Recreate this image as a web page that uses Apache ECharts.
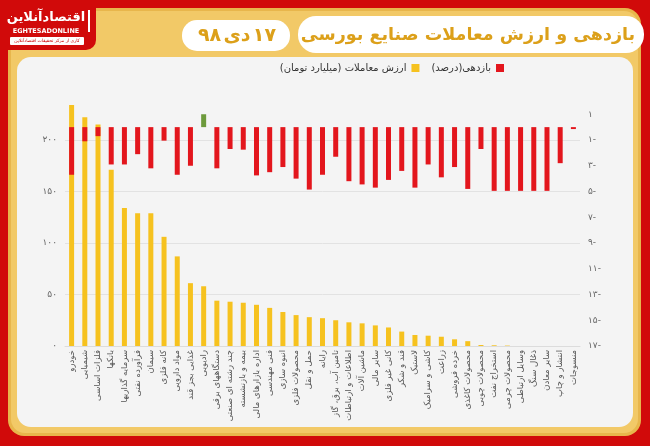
<!DOCTYPE html>
<html>
<head>
<meta charset="utf-8">
<script src="https://cdn.jsdelivr.net/npm/echarts@6/dist/echarts.min.js"></script>
<style>
html,body{margin:0;padding:0;background:#d10a0a;}
#chart{width:650px;height:446px;}
</style>
</head>
<body>
<div id="chart"></div>
<script>
const categories = [
  'خودرو','شیمیایی','فلزات اساسی','بانکها','سرمایه گذاریها','فرآورده نفتی','سیمان','کانه فلزی','مواد دارویی','غذایی بجز قند',
  'رادیویی','دستگاههای برقی','چند رشته ای صنعتی','بیمه و بازنشسته','اداره بازارهای مالی','فنی مهندسی','انبوه سازی','محصولات فلزی','حمل و نقل','رایانه',
  'تامین آب، برق، گاز','اطلاعات و ارتباطات','ماشین آلات','سایر مالی','کانی غیر فلزی','قند و شکر','لاستیک','کاشی و سرامیک','زراعت','خرده فروشی',
  'محصولات کاغذی','محصولات چوبی','استخراج نفت','محصولات چرمی','وسایل ارتباطی','ذغال سنگ','سایر معادن','انتشار و چاپ','منسوجات'
];
const tradeValue = [
  234, 222, 215, 171, 134, 129, 129, 106, 87, 61,
  58, 44, 43, 42, 40, 37, 33, 30, 28, 27,
  25, 23, 22, 20, 18, 14, 10.7, 10, 9, 6.5,
  4.7, 1.0, 0.7, 0.4, 0, 0, 0, 0, 0
];
const returnPct = [
  -3.7, -1.1, -0.7, -2.9, -2.9, -2.1, -3.2, -1.05, -3.7, -3.0,
  1.0, -3.2, -1.7, -1.75, -3.75, -3.5, -3.1, -4.0, -4.85, -3.7,
  -2.3, -4.2, -4.45, -4.7, -4.1, -3.4, -4.7, -2.9, -3.9, -3.1,
  -4.8, -1.7, -4.95, -4.95, -4.95, -4.95, -4.95, -2.8, -0.15
];
const leftTicks = {0:'۰',50:'۵۰',100:'۱۰۰',150:'۱۵۰',200:'۲۰۰'};
const rightTicks = {1:'۱','-1':'۱-','-3':'۳-','-5':'۵-','-7':'۷-','-9':'۹-','-11':'۱۱-','-13':'۱۳-','-15':'۱۵-','-17':'۱۷-'};
const titleText = 'بازدهی و ارزش معاملات صنایع بورسی';
const dateDay = '۱۷', dateMonth = 'دی', dateYear = '۹۸';
const legendValue = 'ارزش معاملات (میلیارد تومان)';
const legendReturn = 'بازدهی(درصد)';

const RED = '#e3161d', YELLOW = '#f6c21f', GREEN = '#6d9a3c', GOLD = '#dca01a';
const FONT = '"DejaVu Sans", sans-serif';

const chart = echarts.init(document.getElementById('chart'), null, {renderer:'canvas'});
chart.setOption({
  backgroundColor: '#d10a0a',
  textStyle: {fontFamily: FONT},
  graphic: [
    {type:'rect', z:-10, shape:{x:8,y:8,width:633,height:428,r:16}, style:{fill:'#e8b64c'}},
    {type:'rect', z:-9, shape:{x:11,y:11,width:627,height:422,r:14}, style:{fill:'#f2c967'}},
    {type:'rect', z:-8, shape:{x:17,y:57,width:616,height:370,r:14}, style:{fill:'#f4f4f4'}},
    // logo
    {type:'rect', z:-5, shape:{x:0,y:0,width:96,height:50,r:[0,0,10,0]}, style:{fill:'#d10a0a'}},
    {type:'text', z:-4, style:{x:46,y:18,text:'اقتصادآنلاین',fill:'#fff',font:'bold 13px '+FONT,align:'center',verticalAlign:'middle'}},
    {type:'text', z:-4, style:{x:46,y:31,text:'EGHTESADONLINE',fill:'#fff',font:'bold 6.5px '+FONT,align:'center',verticalAlign:'middle'}},
    {type:'rect', z:-4, shape:{x:10,y:37,width:74,height:8,r:1}, style:{fill:'#fff'}},
    {type:'text', z:-3, style:{x:47,y:41,text:'کاری از مرکز تحقیقات اقتصادآنلاین',fill:'#c00',font:'4.5px '+FONT,align:'center',verticalAlign:'middle'}},
    {type:'rect', z:-4, shape:{x:88,y:10,width:2,height:22}, style:{fill:'#fff'}},
    // title pills
    {type:'rect', z:-4, shape:{x:298,y:16,width:346,height:37,r:18}, style:{fill:'#fff'}},
    {type:'text', z:-3, style:{x:468,y:35,text:titleText,fill:GOLD,font:'bold 17.5px '+FONT,align:'center',verticalAlign:'middle'}},
    {type:'rect', z:-4, shape:{x:182,y:20,width:108,height:31,r:15}, style:{fill:'#fff'}},
    {type:'text', z:-3, style:{x:276,y:36,text:dateDay,fill:GOLD,font:'bold 19px '+FONT,align:'right',verticalAlign:'middle'}},
    {type:'text', z:-3, style:{x:237,y:36,text:dateMonth,fill:GOLD,font:'bold 19px '+FONT,align:'center',verticalAlign:'middle'}},
    {type:'text', z:-3, style:{x:198,y:36,text:dateYear,fill:GOLD,font:'bold 19px '+FONT,align:'left',verticalAlign:'middle'}}
  ],
  legend: {
    top: 58, right: 141,
    align: 'right',
    itemWidth: 8, itemHeight: 8, itemGap: 12,
    icon: 'rect',
    textStyle: {fontSize: 10, color: '#333', fontFamily: FONT},
    data: [legendValue, legendReturn]
  },
  grid: {left: 65, right: 70, top: 88.5, bottom: 100, containLabel: false},
  xAxis: {
    type: 'category',
    data: categories,
    axisLine: {show: true, lineStyle: {color: '#dcdcdc'}},
    axisTick: {show: false},
    axisLabel: {interval: 0, rotate: 90, fontSize: 8.5, color: '#555', margin: 4, fontFamily: FONT}
  },
  yAxis: [
    {
      type: 'value', min: 0, max: 250, interval: 50,
      axisLine: {show: false}, axisTick: {show: false},
      splitLine: {show: true, lineStyle: {color: ['#e2e2e2','#e2e2e2','#e2e2e2','#e2e2e2','#e2e2e2','rgba(0,0,0,0)']}},
      axisLabel: {fontSize: 9, color: '#666', margin: 8, formatter: v => leftTicks[v] || ''}
    },
    {
      type: 'value', min: -17, max: 3, interval: 1,
      position: 'right',
      axisLine: {show: false}, axisTick: {show: false},
      splitLine: {show: false},
      axisLabel: {fontSize: 9, color: '#666', margin: 8, formatter: v => rightTicks[v] || ''}
    }
  ],
  series: [
    {
      name: legendValue, type: 'bar', yAxisIndex: 0,
      data: tradeValue, barWidth: 5, barGap: '-100%',
      itemStyle: {color: YELLOW}
    },
    {
      name: legendReturn, type: 'bar', yAxisIndex: 1,
      data: returnPct.map(v => ({value: v, itemStyle: {color: v > 0 ? GREEN : RED}})),
      barWidth: 5, barGap: '-100%',
      color: RED, itemStyle: {color: RED}
    }
  ]
});
</script>
</body>
</html>
